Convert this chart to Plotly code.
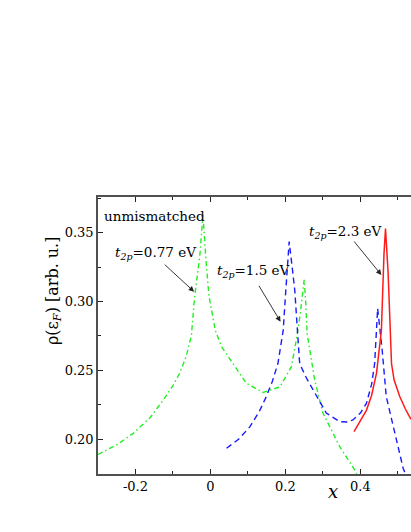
import plotly.graph_objects as go

# t_2p = 0.77 eV (green dash-dot)
green_x = [-0.30, -0.25, -0.206, -0.16, -0.126, -0.10, -0.082, -0.065, -0.051, -0.042, -0.0285, -0.02,
           -0.012, -0.004, 0.013, 0.03, 0.06, 0.096, 0.14, 0.185, 0.216, 0.229, 0.24, 0.25,
           0.254, 0.258, 0.265, 0.278, 0.30, 0.345, 0.385, 0.39]
green_y = [0.189, 0.196, 0.2043, 0.216, 0.2285, 0.239, 0.248, 0.260, 0.275, 0.304, 0.333, 0.363,
           0.330, 0.304, 0.279, 0.267, 0.255, 0.2406, 0.234, 0.238, 0.2527, 0.272, 0.292, 0.3157,
           0.300, 0.2765, 0.265, 0.243, 0.219, 0.1946, 0.1777, 0.175]

# t_2p = 1.5 eV (blue dashed)
blue_x = [0.043, 0.075, 0.105, 0.13, 0.149, 0.165, 0.180, 0.194, 0.201, 0.210, 0.218, 0.225, 0.232,
          0.238, 0.255, 0.274, 0.309, 0.345, 0.365, 0.380, 0.40, 0.416, 0.43, 0.438, 0.443, 0.446,
          0.452, 0.458, 0.469, 0.496, 0.514, 0.52]
blue_y = [0.1935, 0.200, 0.209, 0.220, 0.231, 0.242, 0.255, 0.279, 0.308, 0.3435, 0.325, 0.308, 0.279,
          0.255, 0.245, 0.2358, 0.219, 0.2128, 0.2125, 0.214, 0.219, 0.226, 0.240, 0.255, 0.279, 0.295,
          0.280, 0.265, 0.231, 0.1995, 0.179, 0.175]

# t_2p = 2.3 eV (red solid)
red_x = [0.383, 0.40, 0.416, 0.43, 0.443, 0.456, 0.459, 0.463, 0.467, 0.470, 0.474, 0.480, 0.483,
         0.49, 0.505, 0.52, 0.535]
red_y = [0.2055, 0.213, 0.221, 0.232, 0.248, 0.279, 0.308, 0.335, 0.353, 0.340, 0.3206, 0.277, 0.255,
         0.243, 0.231, 0.222, 0.2145]

x_ticks = [-0.2, 0.0001, 0.2, 0.4]
x_ticklabels = ["-0.2", "0", "0.2", "0.4"]
y_ticks = [0.20, 0.25, 0.30, 0.35]
y_ticklabels = ["0.20", "0.25", "0.30", "0.35"]

FONT = "DejaVu Serif"
AX = "#505050"

fig = go.Figure()
fig.add_trace(go.Scatter(x=green_x, y=green_y, mode="lines",
                         line=dict(color="#22ee22", width=1.4, dash="5px,3px,1.5px,3px")))
fig.add_trace(go.Scatter(x=blue_x, y=blue_y, mode="lines",
                         line=dict(color="#1a1aff", width=1.4, dash="6px,4px")))
fig.add_trace(go.Scatter(x=red_x, y=red_y, mode="lines",
                         line=dict(color="#ff1a1a", width=1.5)))

axis_common = dict(showgrid=False, zeroline=False, showline=True, linecolor=AX, linewidth=1.5,
                   ticks="inside", ticklen=5, tickwidth=1.2, tickcolor="#222",
                   tickfont=dict(family=FONT, size=13, color="black"))

fig.update_xaxes(range=[-0.3, 0.535], tickvals=x_ticks, ticktext=x_ticklabels, mirror="ticks",
                 minor=dict(dtick=0.1, tick0=0, ticks="inside", ticklen=3, tickcolor="#222"),
                 **axis_common)
fig.update_yaxes(range=[0.1748, 0.3759], tickvals=y_ticks, ticktext=y_ticklabels, mirror=False,
                 minor=dict(dtick=0.025, tick0=0.0, ticks="inside", ticklen=3, tickcolor="#222"),
                 **axis_common)

anns = []
anns.append(dict(x=-0.290, y=0.3621, xref="x", yref="y", text="unmismatched", showarrow=False,
                 xanchor="left", yanchor="middle", font=dict(family=FONT, size=13.5, color="black")))
labels = [(-0.2605, 0.3353, "0.77"), (0.0115, 0.3222, "1.5"), (0.257, 0.3505, "2.3")]
for lx, ly, v in labels:
    anns.append(dict(x=lx, y=ly, xref="x", yref="y",
                     text="<i>t</i><sub><i>2p</i></sub>=" + v + " eV", showarrow=False,
                     xanchor="left", yanchor="middle", font=dict(family=FONT, size=13.5, color="black")))
arrows = [(-0.126, 0.3278, -0.0437, 0.3072), (0.127, 0.3125, 0.187, 0.2854), (0.380, 0.3447, 0.456, 0.3193)]
for tx, ty, hx, hy in arrows:
    anns.append(dict(x=hx, y=hy, ax=tx, ay=ty, xref="x", yref="y", axref="x", ayref="y",
                     text="", showarrow=True, arrowhead=2, arrowsize=1.2, arrowwidth=0.9,
                     arrowcolor="#222"))
anns.append(dict(x=-0.1438, y=0.664, xref="paper", yref="paper", textangle=-90,
                 text="ρ(ε<sub><i>F</i></sub>) [arb. u.]", showarrow=False,
                 xanchor="center", yanchor="middle", font=dict(family=FONT, size=16, color="black")))
anns.append(dict(x=0.327, y=-0.064, xref="x", yref="paper", text="<i>x</i>", showarrow=False,
                 xanchor="center", yanchor="middle", font=dict(family=FONT, size=18, color="black")))

fig.update_layout(width=411, height=532, margin=dict(l=98, r=0, t=197, b=58, autoexpand=False),
                  paper_bgcolor="white", plot_bgcolor="white", showlegend=False,
                  annotations=anns)

fig.write_html("out.html", config={"displayModeBar": False},
               post_script="document.body.style.margin='0';")
